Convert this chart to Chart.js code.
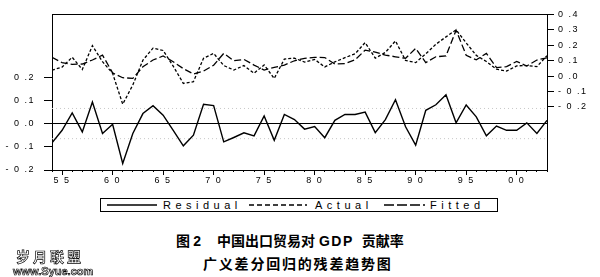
<!DOCTYPE html>
<html>
<head>
<meta charset="utf-8">
<script src="https://cdn.jsdelivr.net/npm/chart.js@4/dist/chart.umd.min.js"></script>
<style>
html,body{margin:0;padding:0;background:#fff;}
body{width:600px;height:277px;position:relative;overflow:hidden;font-family:"Liberation Sans",Arial,sans-serif;color:#000;}
#wrap{position:absolute;left:0;top:0;width:600px;height:190px;}
#legend{position:absolute;left:100px;top:198px;width:398px;height:14px;border:1px solid #000;box-sizing:border-box;}
#legend .it{position:absolute;top:0;height:12px;line-height:12px;font-size:11px;letter-spacing:4.5px;white-space:nowrap;}
#legend svg{position:absolute;top:0;}
.cap{position:absolute;font-family:"Noto Sans CJK SC",sans-serif;font-weight:700;font-size:14px;line-height:16px;white-space:nowrap;}
.cap .lat{font-family:"Liberation Sans",Arial,sans-serif;font-weight:700;}
.wm{position:absolute;left:0;top:240px;width:120px;height:37px;opacity:0.99;will-change:transform;}
.wm1{position:absolute;left:16px;top:8px;white-space:nowrap;font-family:"Noto Sans CJK SC",sans-serif;font-weight:700;font-size:14px;line-height:16px;letter-spacing:3px;color:#fff;-webkit-text-stroke:0.7px #000;}
.wm2{position:absolute;left:13px;top:25px;white-space:nowrap;font-family:"Liberation Sans",Arial,sans-serif;font-weight:700;font-size:11px;line-height:13px;color:#fff;-webkit-text-stroke:0.7px #000;}
</style>
</head>
<body>
<div id="wrap"><canvas id="c" width="600" height="190"></canvas></div>

<div id="legend">
  <svg style="left:6px" width="52" height="12"><line x1="0" y1="6" x2="50" y2="6" stroke="#000" stroke-width="1.6"/></svg>
  <span class="it" style="left:62px">Residual</span>
  <svg style="left:148px" width="60" height="12"><line x1="0" y1="6" x2="58" y2="6" stroke="#000" stroke-width="1.3" stroke-dasharray="5,3"/></svg>
  <span class="it" style="left:214px">Actual</span>
  <svg style="left:283px" width="42" height="12"><line x1="0" y1="6" x2="41" y2="6" stroke="#000" stroke-width="1.3" stroke-dasharray="10,3"/></svg>
  <span class="it" style="left:329px">Fitted</span>
</div>

<div class="cap" style="left:176px;top:232px">图 <span class="lat">2</span><span style="margin-left:16px">中国出口贸易对</span><span class="lat" style="margin-left:4px;letter-spacing:1.5px">GDP</span><span style="margin-left:8px">贡献率</span></div>
<div class="cap" style="left:203px;top:255px;letter-spacing:1.8px">广义差分回归的残差趋势图</div>
<div class="wm">
  <div class="wm1">岁月联盟</div>
  <div class="wm2">www.Syue.com</div>
</div>

<script>
// ---- data ----
const years = [1954,1955,1956,1957,1958,1959,1960,1961,1962,1963,
               1964,1965,1966,1967,1968,1969,1970,1971,1972,1973,
               1974,1975,1976,1977,1978,1979,1980,1981,1982,1983,
               1984,1985,1986,1987,1988,1989,1990,1991,1992,1993,
               1994,1995,1996,1997,1998,1999,2000,2001,2002,2003];

const residual = [-0.083,-0.029,0.046,-0.036,0.093,-0.043,-0.003,-0.172,-0.043,0.043,
                   0.077,0.036,-0.029,-0.096,-0.050,0.083,0.077,-0.079,-0.060,-0.040,
                  -0.053,0.033,-0.072,0.039,0.017,-0.024,-0.013,-0.061,0.014,0.039,
                   0.039,0.049,-0.039,0.017,0.103,-0.014,-0.093,0.057,0.081,0.124,
                   0.003,0.080,0.029,-0.053,-0.011,-0.029,-0.029,0.003,-0.043,0.014];

const actual = [0.038,0.058,0.122,0.042,0.197,0.093,0.017,-0.183,-0.058,0.103,
                0.181,0.166,0.064,-0.048,-0.037,0.115,0.147,0.068,0.039,0.068,
                0.018,0.072,-0.016,0.110,0.116,0.091,0.108,0.059,0.092,0.119,
                0.144,0.217,0.116,0.153,0.228,0.101,0.087,0.144,0.206,0.254,
                0.300,0.215,0.134,0.094,0.044,0.032,0.066,0.068,0.061,0.132];

const fitted = [0.121,0.087,0.076,0.078,0.104,0.136,0.020,-0.011,-0.015,0.060,
                0.104,0.130,0.093,0.048,0.013,0.032,0.070,0.147,0.099,0.108,
                0.071,0.039,0.056,0.071,0.099,0.115,0.121,0.120,0.078,0.080,
                0.105,0.168,0.155,0.136,0.125,0.115,0.180,0.087,0.125,0.130,
                0.297,0.135,0.105,0.147,0.055,0.061,0.095,0.065,0.104,0.118];

const residualSE = 0.065;
const leftTicks  = [-0.2,-0.1,0.0,0.1,0.2];
const rightTicks = [-0.2,-0.1,0.0,0.1,0.2,0.3,0.4];
const xTickYears = [1955,1960,1965,1970,1975,1980,1985,1990,1995,2000];

// ---- helpers ----
const pts = arr => years.map((yr,i)=>({x:yr,y:arr[i]}));
const spaced = s => s.split('').join(' ').replace('. ', '.');
const fmtY = v => {
  const s = (Math.round(v*10)/10).toFixed(1);
  return spaced(s.replace('-0.0','0.0'));
};
const fmtX = v => spaced(String(v % 100).padStart(2,'0'));

Chart.defaults.font.family = '"Liberation Sans", Arial, sans-serif';
Chart.defaults.color = '#000';

const letterSpacingPlugin = {
  id:'lsp',
  beforeDraw(chart){ try{ chart.ctx.letterSpacing = '1.5px'; }catch(e){} },
  afterDraw(chart){ try{ chart.ctx.letterSpacing = '0px'; }catch(e){} }
};

const fontTick = {size:9, family:'"Liberation Sans", Arial, sans-serif'};

new Chart(document.getElementById('c'), {
  type:'line',
  data:{
    datasets:[
      {label:'Residual', data:pts(residual), yAxisID:'yL', borderColor:'#000', borderWidth:1.4, pointRadius:0, tension:0, order:0},
      {label:'Actual', data:pts(actual), yAxisID:'yR', borderColor:'#000', borderWidth:1.3, borderDash:[3,2], pointRadius:0, tension:0, order:1},
      {label:'Fitted', data:pts(fitted), yAxisID:'yR', borderColor:'#000', borderWidth:1.3, borderDash:[7,3], pointRadius:0, tension:0, order:2},
      {label:'SE+', data:[{x:years[0],y:residualSE},{x:years[years.length-1],y:residualSE}], yAxisID:'yL', borderColor:'#c8c8c8', borderWidth:1, borderDash:[1,3], pointRadius:0, order:3},
      {label:'SE-', data:[{x:years[0],y:-residualSE},{x:years[years.length-1],y:-residualSE}], yAxisID:'yL', borderColor:'#c8c8c8', borderWidth:1, borderDash:[1,3], pointRadius:0, order:3}
    ]
  },
  options:{
    responsive:false,
    animation:false,
    events:[],
    layout:{padding:{top:14,left:0,right:0,bottom:0}},
    plugins:{legend:{display:false}, tooltip:{enabled:false}, title:{display:false}},
    scales:{
      xMinor:{
        type:'linear', position:'bottom', weight:-1, min:years[0], max:years[years.length-1],
        afterBuildTicks: s => { s.ticks = years.map(v=>({value:v})); },
        ticks:{display:false},
        grid:{drawOnChartArea:false, drawTicks:true, tickLength:2, tickColor:'#000', lineWidth:1},
        border:{display:false},
        afterFit: s => { s.height = 0; }
      },
      x:{
        type:'linear', position:'bottom', weight:0, min:years[0], max:years[years.length-1],
        afterBuildTicks: s => { s.ticks = xTickYears.map(v=>({value:v})); },
        ticks:{callback:v=>fmtX(v), font:fontTick, color:'#000', maxRotation:0, autoSkip:false, padding:0},
        grid:{drawOnChartArea:false, drawTicks:true, tickLength:5, tickColor:'#000', lineWidth:1},
        border:{display:true, color:'#000', width:1},
        afterFit: s => { s.height = 20; }
      },
      xTop:{
        type:'linear', position:'top', min:years[0], max:years[years.length-1],
        ticks:{display:false},
        grid:{display:false, drawTicks:false},
        border:{display:true, color:'#000', width:1},
        afterFit: s => { s.height = 0; }
      },
      yL:{
        type:'linear', position:'left', min:-0.2, max:0.47,
        afterBuildTicks: s => { s.ticks = leftTicks.map(v=>({value:v})); },
        ticks:{callback:v=>fmtY(v), font:fontTick, color:'#000', padding:9, autoSkip:false},
        grid:{drawOnChartArea:true, drawTicks:true, tickLength:8, tickColor:'#000', lineWidth:1,
              color: c => (c.tick && Math.abs(c.tick.value) < 1e-9) ? '#000' : 'rgba(0,0,0,0)'},
        border:{display:true, color:'#000', width:1},
        afterFit: s => { s.width = 52; }
      },
      yR:{
        type:'linear', position:'right', min:-0.61, max:0.4,
        afterBuildTicks: s => { s.ticks = rightTicks.map(v=>({value:v})); },
        ticks:{callback:v=>fmtY(v), font:fontTick, color:'#000', padding:4, autoSkip:false},
        grid:{drawOnChartArea:false, drawTicks:true, tickLength:7, tickColor:'#000', lineWidth:1},
        border:{display:true, color:'#000', width:1},
        afterFit: s => { s.width = 53; }
      }
    }
  },
  plugins:[letterSpacingPlugin]
});
</script>
</body>
</html>
